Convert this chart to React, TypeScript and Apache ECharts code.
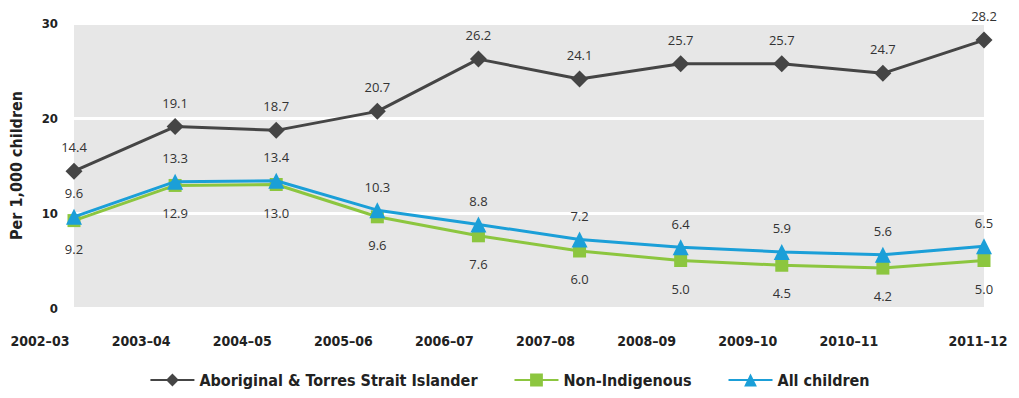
import React, { useEffect, useRef } from "react";
import * as echarts from "echarts";

const categories = ["2002–03", "2003–04", "2004–05", "2005–06", "2006–07", "2007–08", "2008–09", "2009–10", "2010–11", "2011–12"];
const aboriginal = [14.4, 19.1, 18.7, 20.7, 26.2, 24.1, 25.7, 25.7, 24.7, 28.2];
const nonIndigenous = [9.2, 12.9, 13.0, 9.6, 7.6, 6.0, 5.0, 4.5, 4.2, 5.0];
const allChildren = [9.6, 13.3, 13.4, 10.3, 8.8, 7.2, 6.4, 5.9, 5.6, 6.5];
const seriesNames = ["Aboriginal & Torres Strait Islander", "Non-Indigenous", "All children"];
const yTicks = [0, 10, 20, 30];

const NARROW = "'Liberation Sans Narrow', 'DejaVu Sans Condensed', 'Roboto', sans-serif";
const LABEL_FONT = "'Open Sans', 'Lato', sans-serif";

export default function App() {
  const ref = useRef<HTMLDivElement>(null);
  useEffect(() => {
    if (!ref.current) return;
    const chart = echarts.init(ref.current, null, { renderer: "svg" });
    const labelStyle = (pos: string, dist: number) => ({
      show: true,
      position: pos,
      distance: dist,
      color: "#333",
      fontFamily: LABEL_FONT,
      fontSize: 13,
      formatter: (p: any) => Number(p.value).toFixed(1),
    });
    chart.setOption({
      animation: false,
      backgroundColor: "#ffffff",
      grid: {
        left: 68,
        right: 35,
        top: 23,
        bottom: 90,
        show: true,
        backgroundColor: "#e7e7e7",
        borderWidth: 0,
      },
      legend: {
        bottom: 5,
        left: "center",
        itemWidth: 44,
        itemHeight: 16,
        itemGap: 36,
        textStyle: { fontFamily: NARROW, fontWeight: "bold", fontSize: 16, color: "#222" },
        data: seriesNames,
      },
      xAxis: {
        type: "category",
        data: categories,
        boundaryGap: false,
        axisLine: { show: false },
        axisTick: { show: false },
        axisLabel: {
          margin: 26,
          interval: 0,
          formatter: (v: string, i: number) => (i === categories.length - 1 ? `{b|${v}}` : `{a|${v}}`),
          rich: {
            a: { fontFamily: NARROW, fontWeight: "bold", fontSize: 14, color: "#222", padding: [0, 68, 0, 0] },
            b: { fontFamily: NARROW, fontWeight: "bold", fontSize: 14, color: "#222", padding: [0, 12, 0, 0] },
          },
        },
      },
      yAxis: {
        type: "value",
        min: yTicks[0],
        max: yTicks[yTicks.length - 1],
        interval: 10,
        name: "Per 1,000 children",
        nameLocation: "middle",
        nameRotate: 90,
        nameGap: 50,
        nameTextStyle: { fontFamily: NARROW, fontWeight: "bold", fontSize: 16, color: "#222" },
        axisLine: { show: false },
        axisTick: { show: false },
        axisLabel: { margin: 16, fontFamily: NARROW, fontWeight: "bold", fontSize: 13, color: "#222" },
        splitLine: { show: true, lineStyle: { color: "#ffffff", width: 3 } },
      },
      series: [
        {
          name: seriesNames[0],
          type: "line",
          data: aboriginal,
          symbol: "diamond",
          symbolSize: 17,
          color: "#454545",
          lineStyle: { width: 3, color: "#454545" },
          itemStyle: { color: "#454545" },
          label: labelStyle("top", 9),
          z: 3,
        },
        {
          name: seriesNames[1],
          type: "line",
          data: nonIndigenous,
          symbol: "rect",
          symbolSize: 13,
          color: "#8cc63f",
          lineStyle: { width: 3, color: "#8cc63f" },
          itemStyle: { color: "#8cc63f" },
          label: labelStyle("bottom", 15),
          z: 2,
        },
        {
          name: seriesNames[2],
          type: "line",
          data: allChildren,
          symbol: "triangle",
          symbolSize: 16,
          color: "#1b9fd8",
          lineStyle: { width: 3, color: "#1b9fd8" },
          itemStyle: { color: "#1b9fd8" },
          label: labelStyle("top", 9),
          z: 4,
        },
      ],
    });
    return () => chart.dispose();
  }, []);
  return <div ref={ref} style={{ width: 1019, height: 398, margin: -8 }} />;
}
